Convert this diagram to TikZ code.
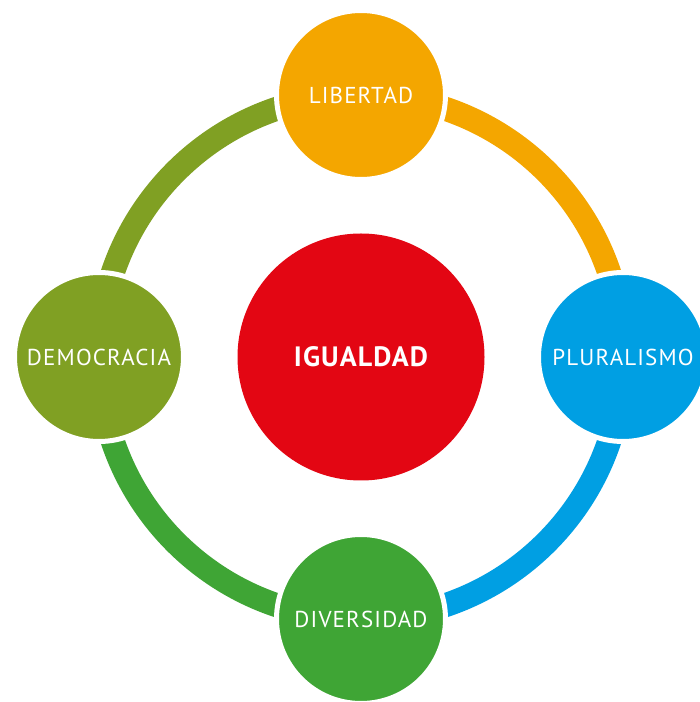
\documentclass[tikz,border=0pt]{standalone}
\usepackage{fontspec}
\setmainfont{PT Sans}
\usetikzlibrary{backgrounds}
\definecolor{cOrange}{HTML}{F4A600}
\definecolor{cBlue}{HTML}{009FE3}
\definecolor{cOlive}{HTML}{80A023}
\definecolor{cGreen}{HTML}{3FA535}
\definecolor{cRed}{HTML}{E30613}
\begin{document}
\begin{tikzpicture}[x=1pt,y=1pt,
  value/.style={circle, draw=white, line width=5pt, minimum size=169pt,
    inner sep=0pt, text=white,
    font=\fontsize{23}{23}\selectfont\addfontfeature{LetterSpace=5}},
  ringarc/.style={line width=24pt, bend left=45}]
\useasboundingbox (0,0) rectangle (700,702);
\clip (0,0) rectangle (700,702);
\coordinate (C) at (361,345);
\node[circle, fill=cRed, minimum size=247pt, inner sep=0pt, text=white,
  font=\bfseries\fontsize{28}{28}\selectfont\addfontfeature{LetterSpace=4}] (igu) at (C) {IGUALDAD};
\node[value, fill=cOrange] (lib) at (361,607) {LIBERTAD};
\node[value, fill=cBlue]   (plu) at (623,345) {PLURALISMO};
\node[value, fill=cGreen]  (div) at (361,83)  {DIVERSIDAD};
\node[value, fill=cOlive]  (dem) at (99,345)  {DEMOCRACIA};
\begin{pgfonlayer}{background}
\fill[white] (0,0) rectangle (700,702);
\draw[ringarc, cOrange] (lib.center) to (plu.center);
\draw[ringarc, cBlue]   (plu.center) to (div.center);
\draw[ringarc, cGreen]  (div.center) to (dem.center);
\draw[ringarc, cOlive]  (dem.center) to (lib.center);
\end{pgfonlayer}
\end{tikzpicture}
\end{document}
